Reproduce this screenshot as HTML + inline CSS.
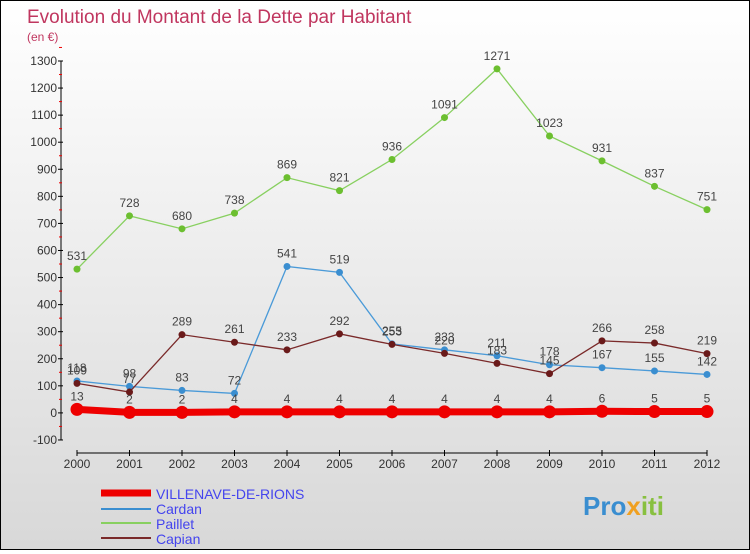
<!DOCTYPE html>
<html><head><meta charset="utf-8"><style>
body{margin:0;}
#c{width:748px;height:548px;border:1px solid #000;background:linear-gradient(#fff,#d8d8d8);position:relative;font-family:"Liberation Sans",sans-serif;}
svg text{font-family:"Liberation Sans",sans-serif;}
</style></head><body>
<div id="c">
<svg id="s" width="748" height="548">
<text x="26" y="22" font-size="19" fill="#c0365f">Evolution du Montant de la Dette par Habitant</text>
<text x="26" y="40" font-size="12" fill="#c0365f">(en €)</text>
<g id="axes"></g><g id="series"></g>
<g>
<line x1="100" y1="492" x2="150" y2="492" stroke="#e00" stroke-width="7"/>
<text x="155" y="498" font-size="14" fill="#4444ee">VILLENAVE-DE-RIONS</text>
<line x1="100" y1="508" x2="150" y2="508" stroke="#3a8ed0" stroke-width="2"/>
<text x="155" y="513" font-size="14" fill="#4444ee">Cardan</text>
<line x1="100" y1="522" x2="150" y2="522" stroke="#88d060" stroke-width="2"/>
<text x="155" y="528" font-size="14" fill="#4444ee">Paillet</text>
<line x1="100" y1="537" x2="150" y2="537" stroke="#7a2a2a" stroke-width="2"/>
<text x="155" y="543" font-size="14" fill="#4444ee">Capian</text>
</g>
<text x="582" y="514" font-size="26" font-weight="bold" fill="#3a8ed0">Pro<tspan fill="#f0a020">x</tspan><tspan fill="#88c040">iti</tspan></text>
</svg></div>
<script>
const years=[2000,2001,2002,2003,2004,2005,2006,2007,2008,2009,2010,2011,2012];
const yTicks=[-100,0,100,200,300,400,500,600,700,800,900,1000,1100,1200,1300];
const villenave=[13,2,2,4,4,4,4,4,4,4,6,5,5];
const cardan=[118,98,83,72,541,519,255,233,211,178,167,155,142];
const paillet=[531,728,680,738,869,821,936,1091,1271,1023,931,837,751];
const capian=[109,77,289,261,233,292,253,220,183,145,266,258,219];
const NS="http://www.w3.org/2000/svg";
const xS=y=>76+(y-2000)*52.5;
const yS=v=>411.9-v*0.2707;
function mk(t,a,p){const e=document.createElementNS(NS,t);for(const k in a)e.setAttribute(k,a[k]);p.appendChild(e);return e;}
const ax=document.getElementById('axes'),se=document.getElementById('series');
const yl=mk('line',{x1:60,y1:yS(1300),x2:60,y2:yS(-100),stroke:'#000'},ax);


yTicks.forEach(v=>{
 mk('line',{x1:57,y1:yS(v),x2:62,y2:yS(v),stroke:'#000'},ax);
 mk('line',{x1:58,y1:yS(v+50),x2:61,y2:yS(v+50),stroke:'#e00'},ax);
 const t=mk('text',{x:56,y:yS(v)+4,'font-size':12,'text-anchor':'end',fill:'#333'},ax);t.textContent=v;
 
 
});
const xl=mk('line',{x1:76,y1:452,x2:706,y2:452,stroke:'#000'},ax);


years.forEach(y=>{
 mk('line',{x1:xS(y),y1:449,x2:xS(y),y2:455,stroke:'#000'},ax);
 const t=mk('text',{x:xS(y),y:467,'font-size':12,'text-anchor':'middle',fill:'#333'},ax);t.textContent=y;
 
 
});
function draw(vals,col,dot,w,r,name){
 const g=mk('g',{},se);
 
 
 const pl=mk('polyline',{points:vals.map((v,i)=>xS(years[i])+','+yS(v)).join(' '),fill:'none',stroke:col,'stroke-width':w},g);
 
 
 vals.forEach((v,i)=>{
  const c=mk('circle',{cx:xS(years[i]),cy:yS(v),r:r,fill:dot},g);
  
  
  const t=mk('text',{x:xS(years[i]),y:yS(v)-9,'font-size':12,'text-anchor':'middle',fill:'#444'},g);t.textContent=v;
  
  
 });
}
draw(paillet,'#88d060','#6cbf30',1.3,3.5,'paillet');
draw(cardan,'#4a9ad8','#3a8ed0',1.3,3.5,'cardan');
draw(capian,'#7a2a2a','#6a1a1a',1.3,3.5,'capian');
draw(villenave,'#e00','#e00',7,6.5,'villenave');
</script>
</body></html>
